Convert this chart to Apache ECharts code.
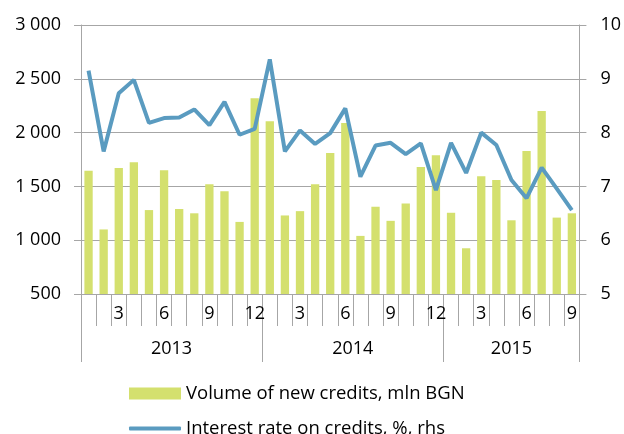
<!DOCTYPE html>
<html>
<head>
<meta charset="utf-8">
<script src="https://cdn.jsdelivr.net/npm/echarts@6/dist/echarts.min.js"></script>
<style>
  html, body { margin: 0; padding: 0; background: #fff; }
  #chart { width: 624px; height: 434px; }
</style>
</head>
<body>
<div id="chart"></div>
<script>
// months covered, per year
var years = ['2013', '2014', '2015']
var monthsPerYear = [12, 12, 9]
var monthTicks = [3, 6, 9, 12]

// Volume of new credits, mln BGN (left axis)
var volume = [
  1645, 1100, 1670, 1725, 1280, 1650, 1290, 1250, 1520, 1455, 1170, 2320,
  2105, 1230, 1270, 1520, 1810, 2090, 1040, 1310, 1180, 1340, 1680, 1790,
  1255, 925, 1595, 1560, 1185, 1830, 2200, 1210, 1250
]

// Interest rate on credits, % (right axis)
var rate = [
  9.15, 7.65, 8.73, 8.98, 8.18, 8.27, 8.28, 8.43, 8.14, 8.57, 7.96, 8.07,
  9.36, 7.65, 8.04, 7.79, 7.99, 8.45, 7.18, 7.76, 7.81, 7.60, 7.80, 6.93,
  7.81, 7.25, 8.00, 7.77, 7.12, 6.78, 7.35, 6.96, 6.56
]

var leftTicks = { min: 500, max: 3000, step: 500 }
var rightTicks = { min: 5, max: 10, step: 1 }

var barName = 'Volume of new credits, mln BGN'
var lineName = 'Interest rate on credits, %, rhs'

// build category list like '2013-1'
var categories = []
var yearStart = {}
years.forEach(function (y, i) {
  yearStart[y] = categories.length
  for (var m = 1; m <= monthsPerYear[i]; m++) {
    categories.push(y + '-' + m)
  }
})

function yearLabelIndex(y) {
  var n = monthsPerYear[years.indexOf(y)]
  return yearStart[y] + Math.floor((n - 1) / 2)
}

var gridColor = '#a6a6a6'
var font = '"Open Sans", "Liberation Sans", sans-serif'
var legendText = { fontSize: 18.5, color: '#000', fontFamily: font }

var chart = echarts.init(document.getElementById('chart'))

chart.setOption({
  animation: false,
  textStyle: { fontFamily: font },
  grid: { left: 81, right: 44, top: 25, bottom: 140 },
  legend: [
    {
      left: 124,
      top: 379,
      itemWidth: 52,
      itemHeight: 12,
      textStyle: legendText,
      data: [{ name: barName, icon: 'rect' }]
    },
    {
      left: 124,
      top: 414,
      itemWidth: 52,
      itemHeight: 4,
      textStyle: legendText,
      data: [{ name: lineName, icon: 'roundRect' }]
    }
  ],
  xAxis: [
    {
      type: 'category',
      data: categories,
      axisLine: { show: true, lineStyle: { color: gridColor } },
      axisTick: { show: true, interval: 0, length: 32, lineStyle: { color: gridColor } },
      axisLabel: {
        interval: 0,
        margin: 11,
        fontSize: 18,
        color: '#000',
        formatter: function (v) {
          var m = +v.split('-')[1]
          return monthTicks.indexOf(m) >= 0 ? String(m) : ''
        }
      }
    },
    {
      type: 'category',
      data: categories,
      position: 'bottom',
      axisLine: { show: false },
      axisTick: {
        show: true,
        interval: function (idx, v) { return v.split('-')[1] === '1' },
        length: 68,
        lineStyle: { color: gridColor }
      },
      axisLabel: {
        interval: function (idx, v) {
          var y = v.split('-')[0]
          return idx === yearLabelIndex(y)
        },
        margin: 46,
        fontSize: 18,
        color: '#000',
        formatter: function (v) {
          var y = v.split('-')[0]
          var n = monthsPerYear[years.indexOf(y)]
          return n % 2 === 0 ? '{s|' + y + '}' : y
        },
        rich: {
          s: { fontSize: 18, color: '#000', padding: [0, 0, 0, 15] }
        }
      }
    }
  ],
  yAxis: [
    {
      type: 'value',
      min: leftTicks.min,
      max: leftTicks.max,
      interval: leftTicks.step,
      axisLine: { show: true, lineStyle: { color: gridColor } },
      axisTick: { show: true, length: 7, lineStyle: { color: gridColor } },
      splitLine: { lineStyle: { color: gridColor, width: 1 } },
      axisLabel: {
        margin: 20,
        fontSize: 18,
        color: '#000',
        formatter: function (v) {
          return String(v).replace(/\B(?=(\d{3})+(?!\d))/g, ' ')
        }
      }
    },
    {
      type: 'value',
      min: rightTicks.min,
      max: rightTicks.max,
      interval: rightTicks.step,
      axisLine: { show: true, lineStyle: { color: gridColor } },
      axisTick: { show: true, length: 7, lineStyle: { color: gridColor } },
      splitLine: { show: false },
      axisLabel: { margin: 21, fontSize: 18, color: '#000' }
    }
  ],
  series: [
    {
      name: barName,
      type: 'bar',
      data: volume,
      barWidth: '55%',
      itemStyle: { color: '#d4e06e' }
    },
    {
      name: lineName,
      type: 'line',
      yAxisIndex: 1,
      data: rate,
      symbol: 'none',
      z: 5,
      itemStyle: { color: '#5a9bc0' },
      lineStyle: { color: '#5a9bc0', width: 4 }
    }
  ]
})
</script>
</body>
</html>
